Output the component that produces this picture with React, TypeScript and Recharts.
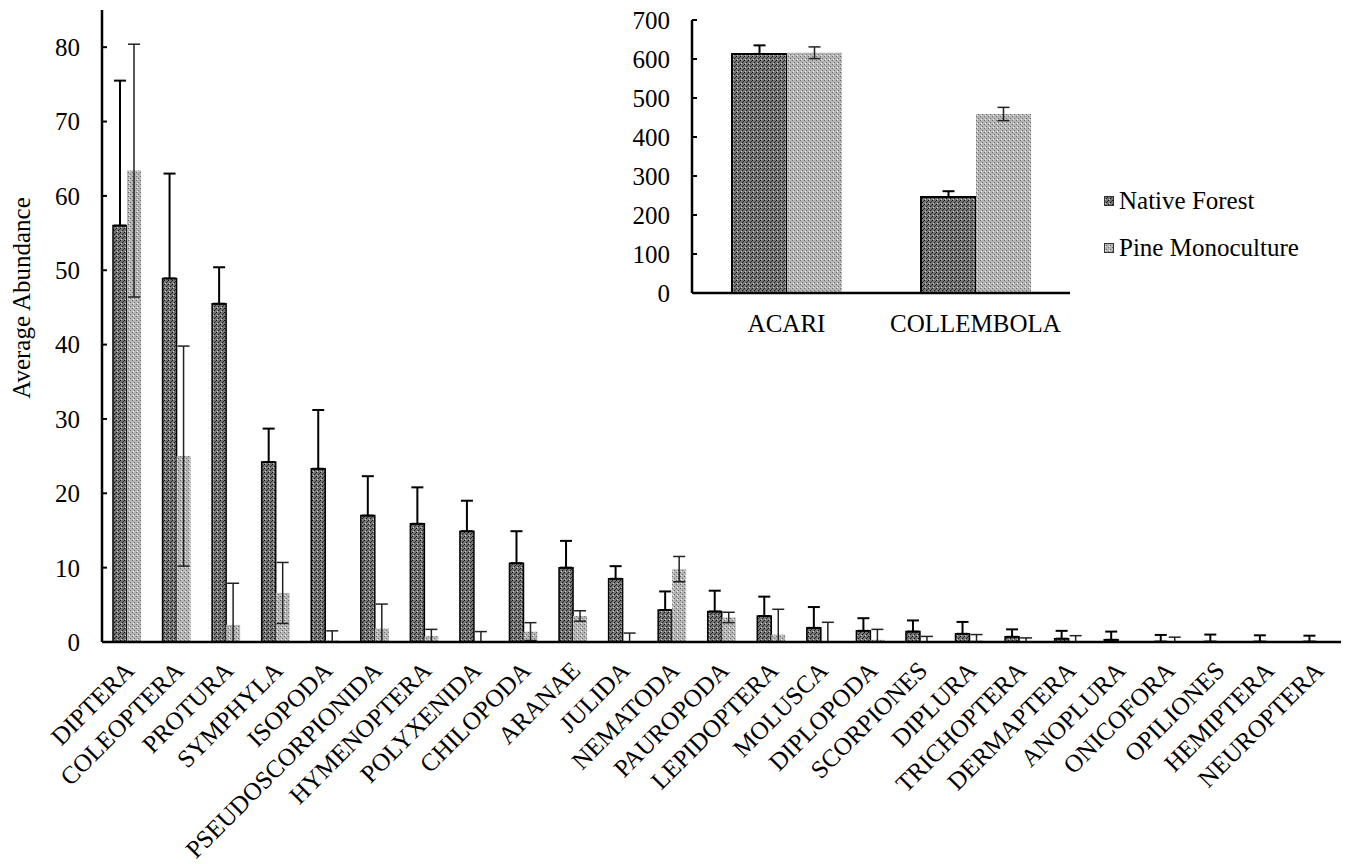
import React from "react";
import {
  BarChart,
  Bar,
  XAxis,
  YAxis,
  ErrorBar,
  Legend,
} from "recharts";

const FONT = "'Liberation Serif', 'Times New Roman', serif";
const FS = 25;

// main chart: average abundance per taxon
const taxa = [
  "DIPTERA", "COLEOPTERA", "PROTURA", "SYMPHYLA", "ISOPODA",
  "PSEUDOSCORPIONIDA", "HYMENOPTERA", "POLYXENIDA", "CHILOPODA", "ARANAE",
  "JULIDA", "NEMATODA", "PAUROPODA", "LEPIDOPTERA", "MOLUSCA",
  "DIPLOPODA", "SCORPIONES", "DIPLURA", "TRICHOPTERA", "DERMAPTERA",
  "ANOPLURA", "ONICOFORA", "OPILIONES", "HEMIPTERA", "NEUROPTERA",
];
const nativeForest = [
  56.0, 48.9, 45.5, 24.2, 23.3, 17.0, 15.9, 14.9, 10.6, 10.0,
  8.5, 4.3, 4.1, 3.5, 1.9, 1.5, 1.4, 1.1, 0.7, 0.45,
  0.3, 0.05, 0.05, 0.05, 0.05,
];
const nativeErr = [
  19.5, 14.1, 4.9, 4.5, 7.9, 5.3, 4.9, 4.1, 4.3, 3.6,
  1.7, 2.5, 2.8, 2.6, 2.8, 1.7, 1.5, 1.6, 1.0, 1.05,
  1.1, 0.9, 0.95, 0.85, 0.8,
];
const pineMonoculture = [
  63.4, 25.0, 2.3, 6.6, 0.2, 1.8, 0.8, 0.1, 1.4, 3.5,
  0.05, 9.8, 3.3, 1.0, 0.05, 0.3, 0.1, 0.2, 0.1, 0.05,
  0, 0.05, 0, 0, 0,
];
const pineErr = [
  17.0, 14.8, 5.6, 4.1, 1.3, 3.3, 0.9, 1.3, 1.2, 0.7,
  1.15, 1.7, 0.7, 3.4, 2.6, 1.4, 0.65, 0.8, 0.45, 0.8,
  0, 0.6, 0, 0, 0,
];
const yTicks = [0, 10, 20, 30, 40, 50, 60, 70, 80];

// inset: the two dominant groups
const insetTaxa = ["ACARI", "COLLEMBOLA"];
const insetNative = [613, 246];
const insetNativeErr = [22, 15];
const insetPine = [616, 459];
const insetPineErr = [15, 17];
const insetTicks = [0, 100, 200, 300, 400, 500, 600, 700];

// whiskers stop at the axis, native ones only go up
const mainData = taxa.map((name, i) => ({
  name,
  native: nativeForest[i],
  nativeErr: [0, nativeErr[i]],
  pine: pineMonoculture[i],
  pineErr: [Math.min(pineErr[i], pineMonoculture[i]), pineErr[i]],
}));

const insetData = insetTaxa.map((name, i) => ({
  name,
  native: insetNative[i],
  nativeErr: [0, insetNativeErr[i]],
  pine: insetPine[i],
  pineErr: insetPineErr[i],
}));

const boundaryTicks = taxa.map((_, i) => i).concat([taxa.length]);

function Patterns({ prefix }: { prefix: string }) {
  return (
    <defs>
      <pattern id={`${prefix}nf`} width="4" height="4" patternUnits="userSpaceOnUse">
        <rect width="4" height="4" fill="#767676" />
        <rect x="0" y="0" width="1" height="1" fill="#141414" />
        <rect x="2" y="2" width="1" height="1" fill="#141414" />
        <rect x="1" y="3" width="1" height="1" fill="#cfcfcf" />
        <rect x="3" y="1" width="1" height="1" fill="#2e2e2e" />
      </pattern>
      <pattern id={`${prefix}pm`} width="4" height="4" patternUnits="userSpaceOnUse">
        <rect width="4" height="4" fill="#b6b6b6" />
        <rect x="0" y="0" width="1" height="1" fill="#6a6a6a" />
        <rect x="2" y="2" width="1" height="1" fill="#6a6a6a" />
        <rect x="1" y="3" width="1" height="1" fill="#eeeeee" />
      </pattern>
    </defs>
  );
}

const XTick = ({ x, y, payload }: any) => {
  const tx = x + 9;
  const ty = y + 30;
  return (
    <text
      x={tx}
      y={ty}
      transform={`rotate(-45 ${tx} ${ty})`}
      textAnchor="end"
      fontSize={FS}
      fill="#000"
      style={{ fontFamily: FONT }}
    >
      {payload.value}
    </text>
  );
};

const renderLegend = (props: any) => {
  const { payload } = props;
  return (
    <div style={{ fontFamily: FONT, fontSize: FS, color: "#000" }}>
      {(payload || []).map((p: any) => (
        <div
          key={p.value}
          style={{ display: "flex", alignItems: "center", height: 47 }}
        >
          <svg width={10} height={10} style={{ marginRight: 5 }}>
            <rect x={0.5} y={0.5} width={9} height={9} fill={p.color} stroke="#333" strokeWidth={1} />
          </svg>
          <span>{p.value}</span>
        </div>
      ))}
    </div>
  );
};

const tickStyle = { fontSize: FS, fill: "#000", style: { fontFamily: FONT } };

export default function App() {
  return (
    <div style={{ position: "absolute", left: 0, top: 0, width: 1351, height: 864, background: "#fff", fontFamily: FONT }}>
      <div style={{ position: "absolute", left: 0, top: 0 }}>
        <BarChart
          width={1351}
          height={864}
          data={mainData}
          margin={{ top: 10, right: 10, left: 0, bottom: 0 }}
          barGap={0}
          barSize={14}
          style={{ fontFamily: FONT }}
        >
          <Patterns prefix="m" />
          <XAxis
            xAxisId="edges"
            type="number"
            domain={[0, taxa.length]}
            ticks={boundaryTicks}
            allowDataOverflow
            height={0}
            tick={false}
            tickSize={-6}
            axisLine={false}
            tickLine={{ stroke: "#000", strokeWidth: 2 }}
          />
          <XAxis
            dataKey="name"
            interval={0}
            height={222}
            tickSize={0}
            tickMargin={0}
            tick={<XTick />}
            axisLine={{ stroke: "#000", strokeWidth: 2.5 }}
            tickLine={false}
          />
          <YAxis
            width={102}
            domain={[0, 85]}
            ticks={yTicks}
            allowDataOverflow
            tickSize={-5}
            tickMargin={27}
            tick={tickStyle}
            axisLine={{ stroke: "#000", strokeWidth: 2.5 }}
            tickLine={{ stroke: "#000", strokeWidth: 2 }}
            label={() => (
              <text
                x={30}
                y={298}
                transform="rotate(-90 30 298)"
                textAnchor="middle"
                fontSize={FS}
                style={{ fontFamily: FONT }}
                fill="#000"
              >
                Average Abundance
              </text>
            )}
          />
          <Bar dataKey="native" name="Native Forest" fill="url(#mnf)" stroke="#000" strokeWidth={1.5} isAnimationActive={false}>
            <ErrorBar dataKey="nativeErr" direction="y" width={6} stroke="#000" strokeWidth={2} />
          </Bar>
          <Bar dataKey="pine" name="Pine Monoculture" fill="url(#mpm)" isAnimationActive={false}>
            <ErrorBar dataKey="pineErr" direction="y" width={6} stroke="#222" strokeWidth={1.5} />
          </Bar>
        </BarChart>
      </div>

      <div style={{ position: "absolute", left: 600, top: 0 }}>
        <BarChart
          width={751}
          height={380}
          data={insetData}
          margin={{ top: 20, right: 281, left: 0, bottom: 0 }}
          barGap={0}
          barSize={55}
          style={{ fontFamily: FONT }}
        >
          <Patterns prefix="i" />
          <XAxis
            xAxisId="edges"
            type="number"
            domain={[0, insetTaxa.length]}
            ticks={[0, 1, 2]}
            allowDataOverflow
            height={0}
            tick={false}
            tickSize={-6}
            axisLine={false}
            tickLine={{ stroke: "#000", strokeWidth: 2 }}
          />
          <XAxis
            dataKey="name"
            height={87}
            tickSize={0}
            tickMargin={21}
            tick={tickStyle}
            axisLine={{ stroke: "#000", strokeWidth: 2.5 }}
            tickLine={false}
          />
          <YAxis
            width={92}
            domain={[0, 700]}
            ticks={insetTicks}
            tickSize={-5}
            tickMargin={27}
            tick={tickStyle}
            axisLine={{ stroke: "#000", strokeWidth: 2.5 }}
            tickLine={{ stroke: "#000", strokeWidth: 2 }}
          />
          <Legend
            layout="horizontal"
            verticalAlign="middle"
            align="center"
            content={renderLegend}
            wrapperStyle={{ left: 504, top: 177, width: 245 }}
          />
          <Bar dataKey="native" name="Native Forest" fill="url(#inf)" stroke="#000" strokeWidth={2} isAnimationActive={false}>
            <ErrorBar dataKey="nativeErr" direction="y" width={6} stroke="#000" strokeWidth={2} />
          </Bar>
          <Bar dataKey="pine" name="Pine Monoculture" fill="url(#ipm)" isAnimationActive={false}>
            <ErrorBar dataKey="pineErr" direction="y" width={6} stroke="#222" strokeWidth={1.5} />
          </Bar>
        </BarChart>
      </div>
    </div>
  );
}
